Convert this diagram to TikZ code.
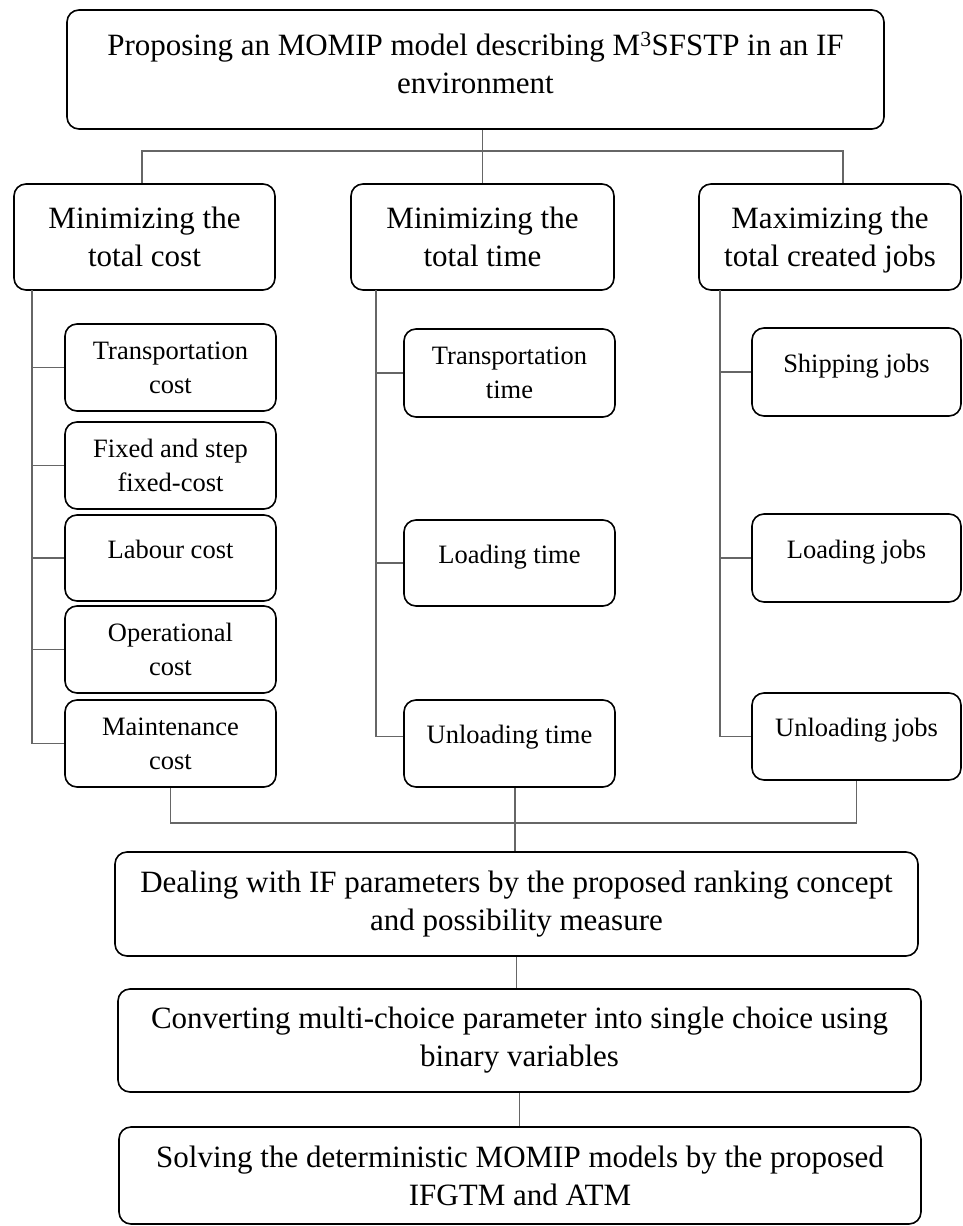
\documentclass[tikz,border=0pt]{standalone}
\usepackage{fontspec}
\setmainfont{Liberation Serif}
% \bx{style}{x1}{y1}{x2}{y2}{name}{text}: rounded box given by its corners
\newcommand\bx[7]{%
  \node[#1, minimum width={#4pt-#2pt}, minimum height={#5pt-#3pt}]
    (#6) at ({(#2+#4)/2},{(#3+#5)/2}) {#7};}
% hide a word's descenders so a line sits like its neighbours
\newcommand\nodesc[1]{\raisebox{0pt}[\height][0pt]{#1}}
\begin{document}
\begin{tikzpicture}[x=1pt,y=-1pt,
  box/.style={draw=black, line width=1.6pt, rounded corners=12pt,
    align=center, inner sep=0pt},
  bigfont/.style={font=\fontsize{31}{38}\selectfont},
  big/.style={box, bigfont},
  small/.style={box, font=\fontsize{26.5}{34}\selectfont},
  oneline/.style={small, text height=0pt, text depth=0pt},
  link/.style={draw=black!60, line width=1.2pt}]
\useasboundingbox (0,0) rectangle (963,1226);

% goal: frame and its text, set a little above the middle
\bx{big}{67}{10}{884}{129}{top}{}
\node[bigfont, align=center, inner sep=0pt] (toptext) at ([yshift=7pt]top.center)
  {Proposing an MOMIP model describing M\textsuperscript{3}SFSTP in an IF\\environment};

% objectives
\bx{big}{14}{184}{275}{290}{c1}{Minimizing the\\total cost}
\bx{big}{351}{184}{614}{290}{c2}{Minimizing the\\total time}
\bx{big}{699}{184}{961}{290}{c3}{Maximizing the\\total created \nodesc{jobs}}

% cost components
\bx{small}{65}{324}{276}{411}{l1}{Transportation\\cost}
\bx{small}{65}{422}{276}{509}{l2}{Fixed and step\\fixed-cost}
\bx{oneline}{65}{515}{276}{601}{l3}{Labour cost}
\bx{small}{65}{606}{276}{693}{l4}{Operational\\cost}
\bx{small}{65}{700}{276}{787}{l5}{Maintenance\\cost}

% time components
\bx{small}{404}{329}{615}{417}{m1}{Transportation\\time}
\bx{oneline}{404}{520}{615}{606}{m2}{Loading time}
\bx{oneline}{404}{700}{615}{787}{m3}{Unloading time}

% job components
\bx{oneline}{752}{328}{961}{416}{r1}{Shipping jobs}
\bx{oneline}{752}{514}{961}{602}{r2}{Loading jobs}
\bx{oneline}{752}{693}{961}{780}{r3}{Unloading jobs}

% solution steps
\bx{big}{115}{852}{918}{956}{d}{Dealing with IF parameters by the proposed ranking concept\\and possibility measure}
\bx{big}{118}{989}{921}{1092}{cv}{Converting multi-choice parameter into single choice using\\binary variables}
\bx{big}{119}{1127}{921}{1224}{sv}{Solving the deterministic MOMIP models by the proposed\\IFGTM and ATM}

% goal to objectives
\coordinate (busL) at (142,151);
\coordinate (busR) at (843,151);
\draw[link] (top.south -| c2.north) -- (c2.north);
\draw[link] (c1.north -| busL) -- (busL) -- (busR) -- (c3.north -| busR);

% objective spines
\coordinate (sL) at (32,290);
\coordinate (sM) at (376,290);
\coordinate (sR) at (720,290);
\draw[link] (sL) |- (l5.west);
\foreach \n in {l1,l2,l3,l4} \draw[link] (sL |- \n.west) -- (\n.west);
\draw[link] (sM) |- ([yshift=7pt]m3.west);
\foreach \n in {m1,m2} \draw[link] (sM |- \n.west) -- (\n.west);
\draw[link] (sR) |- (r3.west);
\foreach \n in {r1,r2} \draw[link] (sR |- \n.west) -- (\n.west);

% components to solution steps
\coordinate (busB) at (515,823);
\draw[link] (l5.south) |- (busB -| r3.south) -- (r3.south);
\draw[link] (m3.south -| busB) -- (d.north -| busB);
\draw[link] (d.south) -- (d.south |- cv.north);
\draw[link] (cv.south) -- (cv.south |- sv.north);
\end{tikzpicture}
\end{document}
